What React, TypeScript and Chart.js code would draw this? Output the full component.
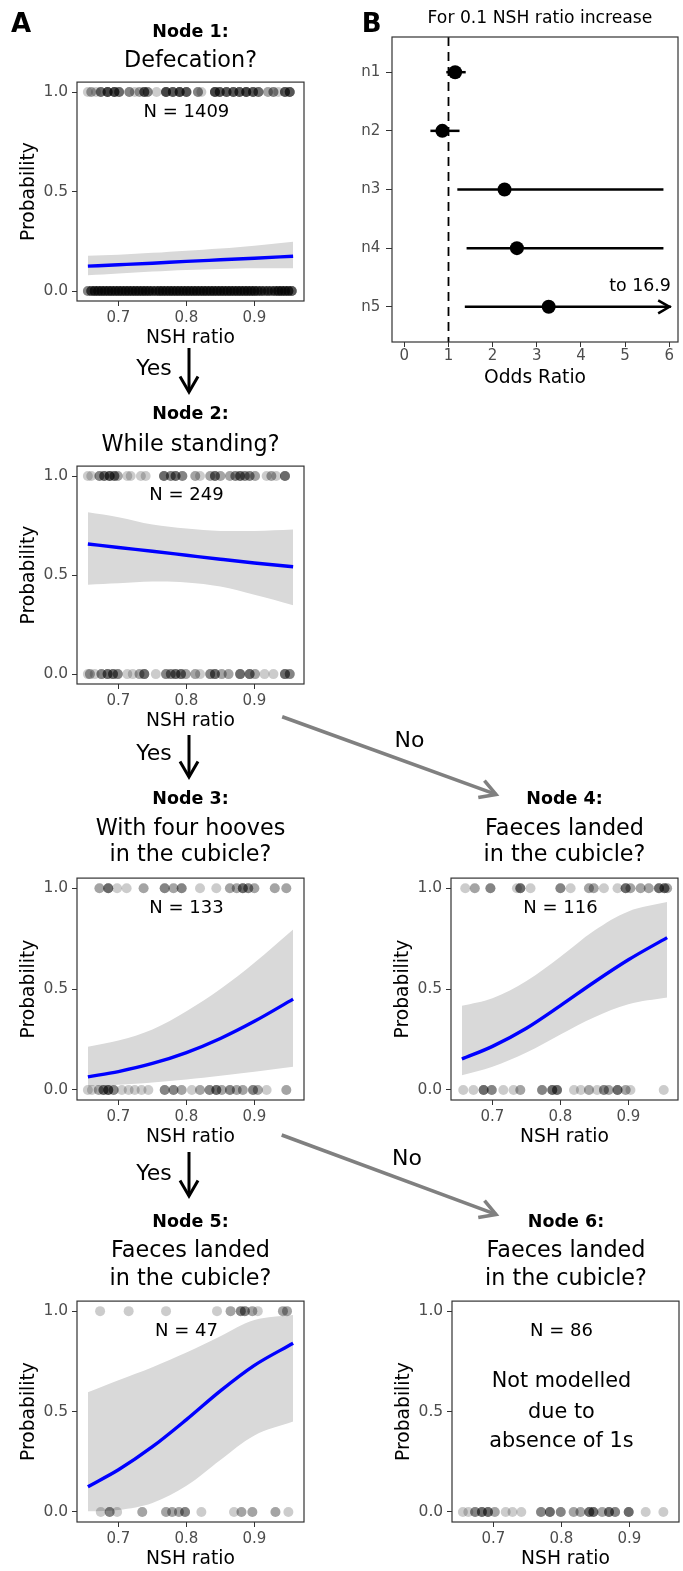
import React, { useEffect, useRef } from 'react';
import { Chart, registerables } from 'chart.js';

Chart.register(...registerables);

const FONT = '"DejaVu Sans", Verdana, sans-serif';

// ---------------- Panel A data ----------------
const nshGrid = [0.655, 0.7, 0.75, 0.8, 0.85, 0.9, 0.957];
const xTickValues = [0.7, 0.8, 0.9];
const yTickValues = [0, 0.5, 1];

// Node 1
const fit1 = [0.125, 0.132, 0.14, 0.149, 0.157, 0.165, 0.175];
const lo1 = [0.079, 0.088, 0.098, 0.106, 0.111, 0.114, 0.115];
const hi1 = [0.178, 0.183, 0.192, 0.203, 0.214, 0.228, 0.248];
const ones1: [number, number][] = [
  [0.655, 1], [0.66, 2], [0.667, 1], [0.674, 4], [0.684, 6], [0.694, 6], [0.701, 4], [0.716, 3],
  [0.724, 1], [0.731, 2], [0.738, 5], [0.743, 3], [0.756, 1], [0.77, 6], [0.78, 5], [0.79, 6],
  [0.8, 5], [0.817, 3], [0.822, 1], [0.842, 6], [0.849, 5], [0.859, 5], [0.869, 5], [0.878, 5],
  [0.888, 6], [0.898, 5], [0.906, 4], [0.92, 2], [0.928, 3], [0.935, 1], [0.945, 5], [0.952, 5],
];
const zeros1: [number, number][] = [
  [0.655, 3], [0.66, 5], [0.665, 6], [0.67, 6], [0.675, 6], [0.68, 6], [0.685, 6], [0.69, 6],
  [0.695, 6], [0.7, 6], [0.705, 6], [0.71, 6], [0.715, 6], [0.72, 6], [0.725, 6], [0.73, 6],
  [0.735, 6], [0.74, 6], [0.745, 6], [0.75, 5], [0.755, 5], [0.76, 6], [0.765, 6], [0.77, 6],
  [0.775, 6], [0.78, 6], [0.785, 6], [0.79, 6], [0.795, 6], [0.8, 6], [0.805, 6], [0.81, 6],
  [0.815, 6], [0.82, 6], [0.825, 6], [0.83, 6], [0.835, 6], [0.84, 6], [0.845, 6], [0.85, 6],
  [0.855, 6], [0.86, 6], [0.865, 6], [0.87, 6], [0.875, 6], [0.88, 6], [0.885, 6], [0.89, 6],
  [0.895, 6], [0.9, 6], [0.905, 5], [0.91, 5], [0.915, 4], [0.92, 5], [0.925, 4], [0.93, 5],
  [0.935, 6], [0.94, 6], [0.945, 6], [0.95, 6], [0.955, 5],
];

// Node 2
const fit2 = [0.657, 0.639, 0.62, 0.6, 0.58, 0.561, 0.542];
const lo2 = [0.451, 0.458, 0.467, 0.463, 0.442, 0.4, 0.348];
const hi2 = [0.817, 0.792, 0.755, 0.735, 0.723, 0.723, 0.73];
const ones2: [number, number][] = [
  [0.655, 1], [0.66, 1], [0.672, 3], [0.679, 4], [0.687, 5], [0.694, 4], [0.699, 2], [0.713, 1],
  [0.718, 1], [0.733, 1], [0.74, 1], [0.767, 4], [0.777, 3], [0.784, 4], [0.794, 3], [0.813, 2],
  [0.82, 1], [0.835, 2], [0.842, 4], [0.85, 2], [0.864, 2], [0.872, 3], [0.879, 4], [0.886, 3],
  [0.893, 3], [0.901, 2], [0.918, 1], [0.925, 2], [0.932, 1], [0.945, 4],
];
const zeros2: [number, number][] = [
  [0.655, 1], [0.658, 2], [0.665, 1], [0.675, 3], [0.684, 4], [0.692, 4], [0.699, 3], [0.713, 1],
  [0.721, 1], [0.731, 2], [0.738, 4], [0.755, 1], [0.77, 3], [0.777, 3], [0.784, 4], [0.792, 4],
  [0.799, 2], [0.813, 2], [0.82, 1], [0.835, 3], [0.842, 4], [0.852, 2], [0.862, 2], [0.879, 4],
  [0.893, 4], [0.901, 2], [0.915, 1], [0.928, 1], [0.945, 4], [0.952, 3],
];

// Node 3
const fit3 = [0.065, 0.091, 0.131, 0.185, 0.255, 0.34, 0.45];
const lo3 = [0.018, 0.026, 0.037, 0.052, 0.07, 0.09, 0.115];
const hi3 = [0.214, 0.245, 0.3, 0.39, 0.5, 0.63, 0.795];
const ones3: [number, number][] = [
  [0.672, 2], [0.685, 4], [0.698, 1], [0.712, 1], [0.737, 2], [0.768, 3], [0.781, 2], [0.793, 3],
  [0.82, 1], [0.844, 1], [0.864, 2], [0.874, 2], [0.883, 4], [0.891, 3], [0.9, 2], [0.93, 2], [0.947, 2],
];
const zeros3: [number, number][] = [
  [0.655, 1], [0.661, 1], [0.671, 2], [0.678, 4], [0.685, 5], [0.693, 3], [0.705, 1], [0.715, 1],
  [0.724, 1], [0.734, 1], [0.744, 1], [0.768, 3], [0.781, 3], [0.793, 2], [0.808, 1], [0.82, 2],
  [0.834, 3], [0.844, 4], [0.852, 2], [0.864, 3], [0.874, 2], [0.883, 2], [0.898, 3], [0.905, 2],
  [0.918, 1], [0.947, 2],
];

// Node 4
const fit4 = [0.153, 0.216, 0.306, 0.418, 0.535, 0.645, 0.755];
const lo4 = [0.073, 0.115, 0.185, 0.275, 0.36, 0.425, 0.458];
const hi4 = [0.417, 0.455, 0.54, 0.66, 0.79, 0.885, 0.931];
const ones4: [number, number][] = [
  [0.66, 1], [0.674, 2], [0.697, 3], [0.736, 1], [0.741, 4], [0.756, 1], [0.8, 3], [0.815, 1],
  [0.842, 2], [0.849, 2], [0.864, 1], [0.884, 1], [0.896, 4], [0.903, 2], [0.918, 2], [0.93, 2],
  [0.945, 4], [0.953, 4], [0.957, 2],
];
const zeros4: [number, number][] = [
  [0.657, 1], [0.672, 1], [0.687, 4], [0.699, 3], [0.716, 1], [0.731, 1], [0.741, 2], [0.773, 3],
  [0.788, 4], [0.795, 4], [0.82, 1], [0.83, 1], [0.842, 2], [0.854, 1], [0.864, 3], [0.871, 2],
  [0.884, 4], [0.896, 2], [0.903, 1], [0.952, 1],
];

// Node 5
const fit5 = [0.126, 0.21, 0.325, 0.46, 0.603, 0.73, 0.84];
const lo5 = [0.003, 0.01, 0.045, 0.13, 0.259, 0.381, 0.45];
const hi5 = [0.596, 0.656, 0.721, 0.794, 0.875, 0.956, 0.981];
const ones5: [number, number][] = [
  [0.673, 1], [0.715, 1], [0.77, 1], [0.845, 1], [0.865, 2], [0.88, 3], [0.886, 3], [0.897, 2],
  [0.905, 1], [0.942, 2], [0.948, 2],
];
const zeros5: [number, number][] = [
  [0.674, 1], [0.687, 3], [0.698, 1], [0.735, 2], [0.77, 2], [0.779, 2], [0.789, 2], [0.798, 3],
  [0.822, 1], [0.87, 1], [0.881, 2], [0.897, 2], [0.931, 2], [0.95, 1],
];

// Node 6 (no model)
const zeros6: [number, number][] = [
  [0.655, 1], [0.663, 1], [0.673, 3], [0.683, 4], [0.692, 4], [0.702, 2], [0.718, 1], [0.728, 1],
  [0.741, 1], [0.77, 3], [0.783, 4], [0.799, 3], [0.818, 2], [0.828, 2], [0.841, 4], [0.847, 4],
  [0.86, 2], [0.87, 4], [0.879, 3], [0.899, 4], [0.924, 1], [0.95, 1],
];

// ---------------- Panel B data ----------------
const orLabels = ['n1', 'n2', 'n3', 'n4', 'n5'];
const orEst = [1.15, 0.86, 2.27, 2.55, 3.27];
const orLow = [0.95, 0.59, 1.2, 1.41, 1.37];
const orHigh = [1.39, 1.25, 5.87, 5.87, 16.9];
const orTicks = [0, 1, 2, 3, 4, 5, 6];
const arrowEnd = 6.04;

// ---------------- helpers ----------------
function expand(pairs: [number, number][], y: number) {
  const out: { x: number; y: number }[] = [];
  for (const [x, c] of pairs) for (let k = 0; k < c; k++) out.push({ x, y });
  return out;
}

const framePlugin = {
  id: 'frame',
  afterDatasetsDraw(chart: any) {
    const { ctx, chartArea: a } = chart;
    ctx.save();
    ctx.strokeStyle = '#333333';
    ctx.lineWidth = 1.2;
    ctx.strokeRect(a.left, a.top, a.right - a.left, a.bottom - a.top);
    ctx.restore();
  },
};

type TextItem = { text: string; x: number; y: number; size: number; align?: CanvasTextAlign };

function textPlugin(items: TextItem[]) {
  return {
    id: 'dataText',
    afterDatasetsDraw(chart: any) {
      const { ctx } = chart;
      const xs = chart.scales.x;
      const ys = chart.scales.y;
      ctx.save();
      for (const t of items) {
        ctx.font = `${t.size}px ${FONT}`;
        ctx.fillStyle = '#000';
        ctx.textAlign = t.align || 'center';
        ctx.textBaseline = 'middle';
        ctx.fillText(t.text, xs.getPixelForValue(t.x), ys.getPixelForValue(t.y));
      }
      ctx.restore();
    },
  };
}

const xTickFont = { family: FONT, size: 15 };
const yTickFont = { family: FONT, size: 15.5 };
const titleFont = { family: FONT, size: 18.7, lineHeight: 1.2 };

type PanelSpec = {
  id: string;
  left: number;
  top: number;
  plotH: number;
  padRight: number;
  ones?: [number, number][];
  zeros: [number, number][];
  fit?: number[];
  lo?: number[];
  hi?: number[];
  texts: TextItem[];
};

const Y_AXIS_W = 77;
const PLOT_W = 227;
const X_AXIS_H = 52;
const PAD_TOP = 10;

const gridOpts = (len: number) => ({
  display: true,
  drawOnChartArea: false,
  drawTicks: true,
  tickLength: len,
  color: '#333333',
  tickColor: '#333333',
  lineWidth: 1,
});

function logitConfig(p: PanelSpec): any {
  const ds: any[] = [];
  if (p.lo && p.hi) {
    ds.push({
      type: 'line',
      data: nshGrid.map((x, i) => ({ x, y: p.lo![i] })),
      borderColor: 'rgba(0,0,0,0)',
      borderWidth: 0,
      pointRadius: 0,
      fill: false,
      tension: 0.35,
      order: 6,
    });
    ds.push({
      type: 'line',
      data: nshGrid.map((x, i) => ({ x, y: p.hi![i] })),
      borderColor: 'rgba(0,0,0,0)',
      borderWidth: 0,
      pointRadius: 0,
      fill: '-1',
      backgroundColor: '#d9d9d9',
      tension: 0.35,
      order: 5,
    });
  }
  const pointStyle = {
    type: 'scatter',
    pointRadius: 5,
    pointBackgroundColor: 'rgba(0,0,0,0.2)',
    pointBorderWidth: 0,
    pointBorderColor: 'rgba(0,0,0,0)',
    showLine: false,
    order: 3,
  };
  if (p.ones) ds.push({ ...pointStyle, data: expand(p.ones, 1) });
  ds.push({ ...pointStyle, data: expand(p.zeros, 0) });
  if (p.fit) {
    ds.push({
      type: 'line',
      data: nshGrid.map((x, i) => ({ x, y: p.fit![i] })),
      borderColor: '#0000ff',
      borderWidth: 3.4,
      pointRadius: 0,
      fill: false,
      cubicInterpolationMode: 'monotone',
      order: 1,
    });
  }
  return {
    type: 'scatter',
    data: { datasets: ds },
    plugins: [framePlugin, textPlugin(p.texts)],
    options: {
      animation: false,
      responsive: false,
      devicePixelRatio: 1,
      events: [],
      layout: { padding: { top: PAD_TOP, right: p.padRight, bottom: 0, left: 0 } },
      plugins: { legend: { display: false }, tooltip: { enabled: false } },
      scales: {
        x: {
          type: 'linear',
          min: 0.639,
          max: 0.973,
          afterBuildTicks: (s: any) => {
            s.ticks = xTickValues.map((v) => ({ value: v }));
          },
          afterFit: (s: any) => {
            s.height = X_AXIS_H;
          },
          ticks: {
            callback: (v: any) => Number(v).toFixed(1),
            color: '#4d4d4d',
            font: xTickFont,
            padding: 3.6,
            maxRotation: 0,
            autoSkip: false,
          },
          grid: gridOpts(5),
          border: { display: false },
          title: {
            display: true,
            text: 'NSH ratio',
            color: '#000',
            font: titleFont,
            padding: { top: 0, bottom: 3.8 },
          },
        },
        y: {
          type: 'linear',
          min: -0.05,
          max: 1.05,
          afterBuildTicks: (s: any) => {
            s.ticks = yTickValues.map((v) => ({ value: v }));
          },
          afterFit: (s: any) => {
            s.width = Y_AXIS_W;
          },
          ticks: {
            callback: (v: any) => Number(v).toFixed(1),
            color: '#4d4d4d',
            font: yTickFont,
            padding: 3.8,
            autoSkip: false,
          },
          grid: gridOpts(5),
          border: { display: false },
          title: {
            display: true,
            text: 'Probability',
            color: '#000',
            font: titleFont,
            padding: { top: 18, bottom: 0 },
          },
        },
      },
    },
  };
}

const nText = (n: number): TextItem => ({ text: `N = ${n}`, x: 0.8, y: 0.9, size: 18 });

const panels: PanelSpec[] = [
  { id: 'p1', left: 0, top: 79, plotH: 222, padRight: 10, ones: ones1, zeros: zeros1, fit: fit1, lo: lo1, hi: hi1, texts: [nText(1409)] },
  { id: 'p2', left: 0, top: 463, plotH: 221, padRight: 10, ones: ones2, zeros: zeros2, fit: fit2, lo: lo2, hi: hi2, texts: [nText(249)] },
  { id: 'p3', left: 0, top: 875, plotH: 225, padRight: 10, ones: ones3, zeros: zeros3, fit: fit3, lo: lo3, hi: hi3, texts: [nText(133)] },
  { id: 'p4', left: 374, top: 875, plotH: 225, padRight: 5, ones: ones4, zeros: zeros4, fit: fit4, lo: lo4, hi: hi4, texts: [nText(116)] },
  { id: 'p5', left: 0, top: 1298, plotH: 224, padRight: 10, ones: ones5, zeros: zeros5, fit: fit5, lo: lo5, hi: hi5, texts: [nText(47)] },
  {
    id: 'p6', left: 375, top: 1298, plotH: 224, padRight: 5, zeros: zeros6,
    texts: [
      nText(86),
      { text: 'Not modelled', x: 0.8, y: 0.648, size: 20.8 },
      { text: 'due to', x: 0.8, y: 0.494, size: 20.8 },
      { text: 'absence of 1s', x: 0.8, y: 0.348, size: 20.8 },
    ],
  },
];

// ---------------- forest plot (B) ----------------
const forestArrowPlugin = {
  id: 'orArrow',
  afterDatasetsDraw(chart: any) {
    const { ctx } = chart;
    const xs = chart.scales.x;
    const ys = chart.scales.y;
    orHigh.forEach((h, i) => {
      if (h <= arrowEnd) return;
      const px = xs.getPixelForValue(arrowEnd) - 1.5;
      const py = ys.getPixelForValue(i + 1);
      const L = 13;
      const a = Math.PI / 6;
      ctx.save();
      ctx.strokeStyle = '#000';
      ctx.lineWidth = 2.5;
      ctx.lineJoin = 'miter';
      ctx.beginPath();
      ctx.moveTo(px - L * Math.cos(a), py - L * Math.sin(a));
      ctx.lineTo(px, py);
      ctx.lineTo(px - L * Math.cos(a), py + L * Math.sin(a));
      ctx.stroke();
      ctx.font = `17.4px ${FONT}`;
      ctx.fillStyle = '#000';
      ctx.textAlign = 'right';
      ctx.textBaseline = 'middle';
      ctx.fillText(`to ${h}`, px + 1.5, ys.getPixelForValue(i + 1 - 0.354));
      ctx.restore();
    });
  },
};

function forestConfig(): any {
  const ds: any[] = [
    {
      type: 'line',
      data: [
        { x: 1, y: 0.4 },
        { x: 1, y: 5.6 },
      ],
      borderColor: '#000',
      borderWidth: 1.8,
      borderDash: [9, 6],
      pointRadius: 0,
      fill: false,
      order: 5,
    },
    ...orLabels.map((_, i) => ({
      type: 'line',
      data: [
        { x: orLow[i], y: i + 1 },
        { x: Math.min(orHigh[i], arrowEnd), y: i + 1 },
      ],
      borderColor: '#000',
      borderWidth: 2.5,
      pointRadius: 0,
      fill: false,
      order: 3,
    })),
    {
      type: 'scatter',
      data: orEst.map((v, i) => ({ x: v, y: i + 1 })),
      pointRadius: 7,
      pointBackgroundColor: '#000',
      pointBorderWidth: 0,
      showLine: false,
      order: 1,
    },
  ];
  return {
    type: 'scatter',
    data: { datasets: ds },
    plugins: [framePlugin, forestArrowPlugin],
    options: {
      animation: false,
      responsive: false,
      devicePixelRatio: 1,
      events: [],
      layout: { padding: { top: 37, right: 1, bottom: 0, left: 0 } },
      plugins: { legend: { display: false }, tooltip: { enabled: false } },
      scales: {
        x: {
          type: 'linear',
          min: -0.28,
          max: 6.2,
          afterBuildTicks: (s: any) => {
            s.ticks = orTicks.map((v) => ({ value: v }));
          },
          afterFit: (s: any) => {
            s.height = 53;
          },
          ticks: {
            callback: (v: any) => String(v),
            color: '#4d4d4d',
            font: xTickFont,
            padding: 0,
            maxRotation: 0,
            autoSkip: false,
          },
          grid: gridOpts(5),
          border: { display: false },
          title: {
            display: true,
            text: 'Odds Ratio',
            color: '#000',
            font: titleFont,
            padding: { top: 0, bottom: 5.8 },
          },
        },
        y: {
          type: 'linear',
          reverse: true,
          min: 0.4,
          max: 5.6,
          afterBuildTicks: (s: any) => {
            s.ticks = orLabels.map((_, i) => ({ value: i + 1 }));
          },
          afterFit: (s: any) => {
            s.width = 52;
          },
          ticks: {
            callback: (v: any) => orLabels[Math.round(Number(v)) - 1],
            color: '#4d4d4d',
            font: xTickFont,
            padding: 5.7,
            autoSkip: false,
          },
          grid: gridOpts(6),
          border: { display: false },
        },
      },
    },
  };
}

// ---------------- components ----------------
function ChartBox({ left, top, width, height, make }: { left: number; top: number; width: number; height: number; make: () => any }) {
  const ref = useRef<HTMLCanvasElement>(null);
  useEffect(() => {
    const chart = new Chart(ref.current as HTMLCanvasElement, make());
    return () => chart.destroy();
  }, []);
  return (
    <canvas
      ref={ref}
      width={width}
      height={height}
      style={{ position: 'absolute', left, top, width, height, display: 'block' }}
    />
  );
}

type Label = { t: string; x: number; y: number; size: number; bold?: boolean };

const labels: Label[] = [
  { t: 'A', x: 21, y: 23.3, size: 26, bold: true },
  { t: 'B', x: 371.7, y: 23.3, size: 26, bold: true },
  { t: 'For 0.1 NSH ratio increase', x: 540, y: 18, size: 17.2 },
  { t: 'Node 1:', x: 190.5, y: 31.7, size: 17.5, bold: true },
  { t: 'Defecation?', x: 190.5, y: 59.3, size: 22.3 },
  { t: 'Node 2:', x: 190.5, y: 414, size: 17.5, bold: true },
  { t: 'While standing?', x: 190.5, y: 442.7, size: 22.3 },
  { t: 'Node 3:', x: 190.5, y: 799, size: 17.5, bold: true },
  { t: 'With four hooves', x: 190.5, y: 826.7, size: 22.3 },
  { t: 'in the cubicle?', x: 190.5, y: 853.3, size: 22.3 },
  { t: 'Node 4:', x: 564.5, y: 799, size: 17.5, bold: true },
  { t: 'Faeces landed', x: 564.5, y: 826.7, size: 22.3 },
  { t: 'in the cubicle?', x: 564.5, y: 853.3, size: 22.3 },
  { t: 'Node 5:', x: 190.5, y: 1221.7, size: 17.5, bold: true },
  { t: 'Faeces landed', x: 190.5, y: 1249.3, size: 22.3 },
  { t: 'in the cubicle?', x: 190.5, y: 1276.7, size: 22.3 },
  { t: 'Node 6:', x: 566, y: 1221.7, size: 17.5, bold: true },
  { t: 'Faeces landed', x: 566, y: 1249.3, size: 22.3 },
  { t: 'in the cubicle?', x: 566, y: 1276.7, size: 22.3 },
  { t: 'Yes', x: 154, y: 368, size: 22 },
  { t: 'Yes', x: 154, y: 752.7, size: 22 },
  { t: 'Yes', x: 154, y: 1173, size: 22 },
  { t: 'No', x: 409.5, y: 740, size: 22 },
  { t: 'No', x: 407, y: 1158.3, size: 22 },
];

type Arrow = { x1: number; y1: number; x2: number; y2: number; color: string; w: number };
const arrows: Arrow[] = [
  { x1: 189, y1: 348, x2: 189, y2: 392, color: '#000', w: 3 },
  { x1: 189, y1: 735, x2: 189, y2: 777, color: '#000', w: 3 },
  { x1: 189, y1: 1152, x2: 189, y2: 1196, color: '#000', w: 3 },
  { x1: 282.2, y1: 716.7, x2: 496, y2: 794.4, color: '#808080', w: 3.6 },
  { x1: 281.7, y1: 1135, x2: 496, y2: 1214.4, color: '#808080', w: 3.6 },
];

function ArrowSvg() {
  return (
    <svg width={683} height={1571} style={{ position: 'absolute', left: 0, top: 0, pointerEvents: 'none' }}>
      {arrows.map((a, i) => {
        const ang = Math.atan2(a.y2 - a.y1, a.x2 - a.x1);
        const L = 18;
        const h = Math.PI / 6;
        const p1 = [a.x2 - L * Math.cos(ang - h), a.y2 - L * Math.sin(ang - h)];
        const p2 = [a.x2 - L * Math.cos(ang + h), a.y2 - L * Math.sin(ang + h)];
        return (
          <g key={i} stroke={a.color} strokeWidth={a.w} fill="none">
            <line x1={a.x1} y1={a.y1} x2={a.x2} y2={a.y2} />
            <polyline points={`${p1[0]},${p1[1]} ${a.x2},${a.y2} ${p2[0]},${p2[1]}`} strokeLinejoin="miter" />
          </g>
        );
      })}
    </svg>
  );
}

export default function App() {
  return (
    <div
      style={{
        position: 'absolute',
        left: 0,
        top: 0,
        width: 683,
        height: 1571,
        overflow: 'hidden',
        background: '#fff',
        fontFamily: FONT,
        color: '#000',
      }}
    >
      {panels.map((p) => (
        <ChartBox
          key={p.id}
          left={p.left}
          top={p.top - PAD_TOP}
          width={Y_AXIS_W + PLOT_W + p.padRight}
          height={PAD_TOP + p.plotH + X_AXIS_H}
          make={() => logitConfig(p)}
        />
      ))}
      <ChartBox left={340} top={0} width={345} height={395} make={forestConfig} />
      <ArrowSvg />
      {labels.map((l, i) => (
        <div
          key={i}
          style={{
            position: 'absolute',
            left: l.x,
            top: l.y,
            transform: 'translate(-50%, -50%)',
            whiteSpace: 'nowrap',
            lineHeight: 1,
            fontSize: l.size,
            fontWeight: l.bold ? 'bold' : 'normal',
          }}
        >
          {l.t}
        </div>
      ))}
    </div>
  );
}
